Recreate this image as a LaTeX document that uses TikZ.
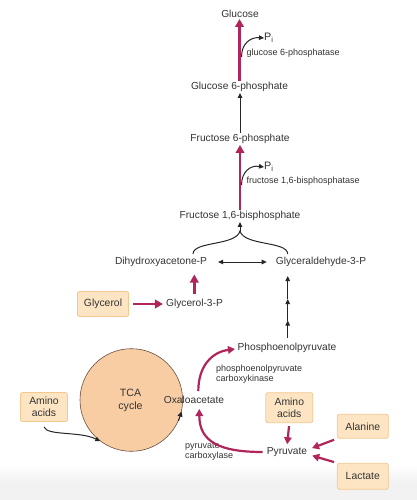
\documentclass[tikz,border=0pt]{standalone}
\usepackage{fontspec}
\setmainfont{Liberation Sans}
\usetikzlibrary{arrows.meta,calc}
\definecolor{txt}{HTML}{333333}
\definecolor{redc}{HTML}{B0255A}
\definecolor{boxfill}{HTML}{FDE5C4}
\definecolor{boxdraw}{HTML}{F2C88E}
\definecolor{circfill}{HTML}{F9CDA4}
\definecolor{circdraw}{HTML}{6B5040}
\tikzset{
  lbl/.style={text=txt,font=\fontsize{10.2}{12}\selectfont,inner sep=1pt},
  small/.style={text=txt,font=\fontsize{9}{10}\selectfont,inner sep=0pt,anchor=west,align=left},
  srcbox/.style={lbl,draw=boxdraw,fill=boxfill,rounded corners=2pt,align=center,line width=0.8pt,font=\fontsize{10.4}{12}\selectfont},
  redarrow/.style={draw=redc,line width=2.6pt,-{Triangle[length=8pt,width=8.5pt]}},
  redcurve/.style={draw=redc,line width=2.2pt,-{Triangle[length=7pt,width=7.5pt]}},
  blk/.style={draw=black!85,line width=1pt,-{Triangle[length=5pt,width=4.5pt]}},
  blk2/.style={draw=black!85,line width=1pt,{Triangle[length=5pt,width=4.5pt]}-{Triangle[length=5pt,width=4.5pt]}},
}
\begin{document}
\begin{tikzpicture}[x=1pt,y=-1pt]
\useasboundingbox (0,0) rectangle (417,500);
\fill[white] (0,0) rectangle (417,500);
\shade[top color=white,bottom color=black!5] (0,464) rectangle (417,482);
\fill[black!5] (0,482) rectangle (417,500);

% main chain
\node[lbl] (glc) at (240,14) {Glucose};
\node[lbl] (g6p) at (239.5,87) {Glucose 6-phosphate};
\node[lbl] (f6p) at (240,139) {Fructose 6-phosphate};
\node[lbl] (f16) at (240,216) {Fructose 1,6-bisphosphate};
\node[lbl] (dhap) at (161,262) {Dihydroxyacetone-P};
\node[lbl] (g3p) at (321,262) {Glyceraldehyde-3-P};
\node[srcbox,minimum width=51pt,minimum height=25pt] (glyc) at (103,304) {Glycerol};
\node[lbl] (gly3p) at (194.5,304) {Glycerol-3-P};
\node[lbl] (pep) at (287,348) {Phosphoenolpyruvate};
\node[circle,draw=circdraw,fill=circfill,line width=0.6pt,minimum size=102.6pt,inner sep=0pt] (tca) at (131.3,400) {};
\node[lbl,align=center,font=\fontsize{10.6}{13}\selectfont] (tcat) at (130.5,400.5) {TCA\\cycle};
\node[lbl] (oaa) at (194,399.5) {Oxaloacetate};
\node[srcbox,minimum width=47pt,minimum height=29pt] (aa1) at (44,407) {Amino\\acids};
\node[srcbox,minimum width=47pt,minimum height=30pt] (aa2) at (289.3,407.7) {Amino\\acids};
\node[lbl] (pyr) at (287,452) {Pyruvate};
\node[srcbox,minimum width=51pt,minimum height=24pt] (ala) at (362.8,426.3) {Alanine};
\node[srcbox,minimum width=51pt,minimum height=26pt] (lac) at (362.8,476.3) {Lactate};

% Pi nodes and enzyme labels
\node[lbl,anchor=west,inner sep=0pt,font=\fontsize{10.8}{12}\selectfont] (pi1) at (264,38) {P\textsubscript{i}};
\node[lbl,anchor=west,inner sep=0pt,font=\fontsize{10.8}{12}\selectfont] (pi2) at (264,167) {P\textsubscript{i}};
\node[small] (e1) at (246.5,53) {glucose 6-phosphatase};
\node[small] (e2) at (246.5,181.5) {fructose 1,6-bisphosphatase};
\node[small,font=\fontsize{9}{10.3}\selectfont] (e3) at (216,374) {phosphoenolpyruvate\\carboxykinase};
\node[small,font=\fontsize{9}{10.3}\selectfont] (e4) at (185,451.5) {pyruvate\\carboxylase};

% coordinates
\coordinate (c1) at (241.5,57);
\coordinate (c2) at (241.5,185);
\coordinate (bl) at (193,254);
\coordinate (bt) at (240,231);
\coordinate (br) at (287.7,254);
\coordinate (m0) at (287.7,338);
\coordinate (m1) at (287.7,320.5);
\coordinate (m2) at (287.7,299);
\coordinate (m3) at (287.7,276);
\coordinate (o1) at (198.3,391);
\coordinate (o2) at (199.3,409);
\coordinate (gy) at (194.3,293.5);
\coordinate (dh) at (194.3,274.5);

% arrows of the chain
\draw[redarrow] (g6p.north) -- (g6p.north |- glc.south);
\draw[blk] (c1) .. controls (241.5,44) and (250,37) .. (pi1.west);
\draw[blk] (f6p.north) -- (f6p.north |- g6p.south);
\draw[redarrow] (f16.north) -- (f16.north |- f6p.south);
\draw[blk] (c2) .. controls (241.5,172) and (250,165) .. (pi2.west);
\draw[draw=black!85,line width=1pt] (bl) .. controls (193,241) and (236,246) .. (bt) .. controls (244,246) and (287.7,241) .. (br);
\draw[blk] (bt) -- (f16.south);
\draw[blk2,shorten <=10pt,shorten >=8pt] (dhap.east) -- (g3p.west);
\draw[redarrow] (gy) -- (dh);
\draw[redarrow,shorten <=4pt,shorten >=2pt] (glyc.east) -- (gly3p.west);
\draw[blk] (m0) -- (m1);
\draw[blk] (m1) -- (m2);
\draw[blk] (m2) -- (m3);

% bottom part
\draw[redcurve] (o1) .. controls (198.3,366) and (212,352) .. ($(pep.west)+(-1.5,1)$);
\draw[redcurve,shorten <=3pt] (pyr.west) .. controls (220,452) and (199.3,442) .. (o2);
\draw[blk] ($(aa1.south)+(0,5)$) .. controls (47,436) and (80,431) .. (tca.233);
\draw[blk,-{Triangle[length=5pt,width=5pt]}] (tca.-24) -- (tca.-13);
\draw[redcurve,shorten <=3pt,shorten >=2pt] (aa2.south) -- (pyr.north);
\draw[redcurve,shorten <=3pt,shorten >=4pt] (ala.south west) -- ($(pyr.east)+(0,-2.5)$);
\draw[redcurve,shorten <=3pt,shorten >=4pt] (lac.north west) -- ($(pyr.east)+(0,2.5)$);
\end{tikzpicture}
\end{document}
